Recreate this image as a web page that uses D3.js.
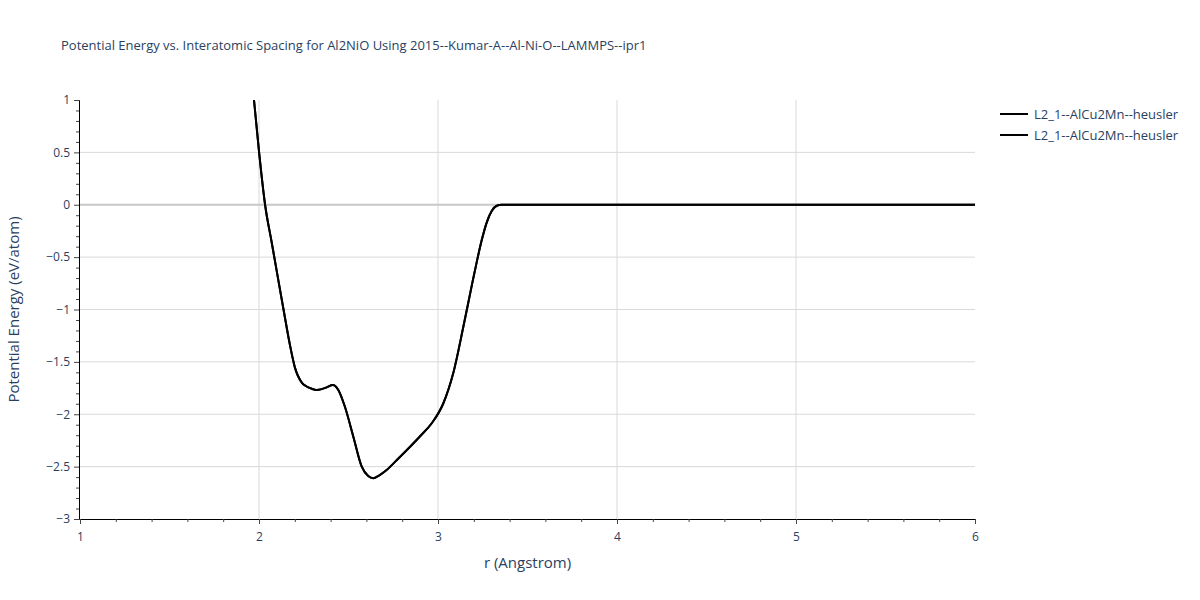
<!DOCTYPE html>
<html><head><meta charset="utf-8">
<script src="https://cdn.jsdelivr.net/npm/d3@7"></script>
<style>body{margin:0;background:#fff}svg{font-family:"Open Sans",verdana,arial,sans-serif}</style>
</head><body><svg id="c" width="1200" height="600"></svg>
<script>
const title = "Potential Energy vs. Interatomic Spacing for Al2NiO Using 2015--Kumar-A--Al-Ni-O--LAMMPS--ipr1";
const xLabel = "r (Angstrom)";
const yLabel = "Potential Energy (eV/atom)";
const seriesNames = ["L2_1--AlCu2Mn--heusler", "L2_1--AlCu2Mn--heusler"];
const xTicks = [1, 2, 3, 4, 5, 6];
const yTicks = [1, 0.5, 0, -0.5, -1, -1.5, -2, -2.5, -3];
const rVals = [1.94, 1.972, 2.0, 2.034, 2.071, 2.108, 2.136, 2.173, 2.2, 2.24, 2.266, 2.295, 2.322, 2.35, 2.378, 2.412, 2.443, 2.48, 2.527, 2.574, 2.61, 2.639, 2.67, 2.713, 2.78, 2.844, 2.9, 2.965, 3.03, 3.085, 3.141, 3.19, 3.216, 3.244, 3.272, 3.3, 3.328, 3.356, 3.4, 4.0, 5.0, 6.0];
const eVals = [1.5, 1.0, 0.51, 0.0, -0.36, -0.72, -0.99, -1.34, -1.55, -1.70, -1.735, -1.757, -1.768, -1.76, -1.743, -1.721, -1.768, -1.928, -2.214, -2.501, -2.59, -2.611, -2.585, -2.532, -2.42, -2.310, -2.21, -2.086, -1.895, -1.609, -1.17, -0.76, -0.55, -0.34, -0.17, -0.06, -0.01, 0.0, 0.0, 0.0, 0.0, 0.0];

const svg = d3.select("#c");
const L = 80, R = 975, T = 100, B = 519;
const x = d3.scaleLinear().domain([1, 6]).range([L, R]);
const y = d3.scaleLinear().domain([-3, 1]).range([B, T]);
const textCol = "#2a3f5f";

// grid
const g = svg.append("g");
g.selectAll(".vg").data(xTicks.filter(d => d > 1 && d < 6)).enter().append("line")
  .attr("x1", d => x(d)).attr("x2", d => x(d)).attr("y1", T).attr("y2", B)
  .attr("stroke", "#d9d9d9").attr("stroke-width", 1);
g.selectAll(".hg").data(yTicks.filter(d => d > -3 && d < 1)).enter().append("line")
  .attr("x1", L).attr("x2", R).attr("y1", d => y(d)).attr("y2", d => y(d))
  .attr("stroke", d => d === 0 ? "#c8c8c8" : "#d9d9d9").attr("stroke-width", d => d === 0 ? 2 : 1);

// clip
svg.append("clipPath").attr("id", "clip").append("rect").attr("x", L).attr("y", T).attr("width", R - L).attr("height", B - T);

const data = rVals.map((r, i) => [r, eVals[i]]);
const line = d3.line().x(d => x(d[0])).y(d => y(d[1])).curve(d3.curveMonotoneX);
seriesNames.forEach(() => {
  svg.append("path").attr("d", line(data)).attr("fill", "none").attr("stroke", "#000")
    .attr("stroke-width", 2).attr("clip-path", "url(#clip)");
});

// axes
const xAxis = svg.append("g").attr("transform", `translate(0,${B})`)
  .call(d3.axisBottom(x).tickValues(xTicks).tickSize(5).tickPadding(8).tickFormat(d3.format("d")));
const xMinor = svg.append("g").attr("transform", `translate(0,${B})`)
  .call(d3.axisBottom(x).tickValues(d3.range(1.2, 6, 0.2).filter(v => Math.abs(v - Math.round(v)) > 0.01)).tickSize(3).tickFormat(""));
const yAxis = svg.append("g").attr("transform", `translate(${L - 1},0)`)
  .call(d3.axisLeft(y).tickValues(yTicks).tickSize(5).tickPadding(4).tickFormat(d => d < 0 ? "\u2212" + Math.abs(d) : String(d)));
const yMinor = svg.append("g").attr("transform", `translate(${L - 1},0)`)
  .call(d3.axisLeft(y).tickValues(d3.range(-2.9, 1, 0.1).filter(v => Math.abs(v * 2 - Math.round(v * 2)) > 0.01)).tickSize(3).tickFormat(""));
[xAxis, xMinor, yAxis, yMinor].forEach(a => {
  a.select(".domain").attr("stroke", "#000").attr("stroke-width", 1);
  a.selectAll(".tick line").attr("stroke", "#444");
  a.selectAll("text").attr("fill", textCol).attr("font-size", 12).attr("font-family", '"Open Sans",verdana,arial,sans-serif');
});
xMinor.select(".domain").remove();
yMinor.select(".domain").remove();

// titles
svg.append("text").attr("x", 61).attr("y", 50).attr("fill", textCol).attr("font-size", 13).text(title);
svg.append("text").attr("x", (L + R) / 2).attr("y", 568).attr("text-anchor", "middle").attr("fill", textCol).attr("font-size", 15).text(xLabel);
svg.append("text").attr("transform", `translate(19,${(T + B) / 2}) rotate(-90)`).attr("text-anchor", "middle").attr("fill", textCol).attr("font-size", 15).text(yLabel);

// legend
const lg = svg.append("g").attr("transform", "translate(1000,114)");
seriesNames.forEach((n, i) => {
  const row = lg.append("g").attr("transform", `translate(0,${i * 21})`);
  row.append("line").attr("x1", 0).attr("x2", 28).attr("y1", 0).attr("y2", 0).attr("stroke", "#000").attr("stroke-width", 2);
  row.append("text").attr("x", 34).attr("y", 4.5).attr("fill", textCol).attr("font-size", 13).text(n);
});
</script></body></html>
